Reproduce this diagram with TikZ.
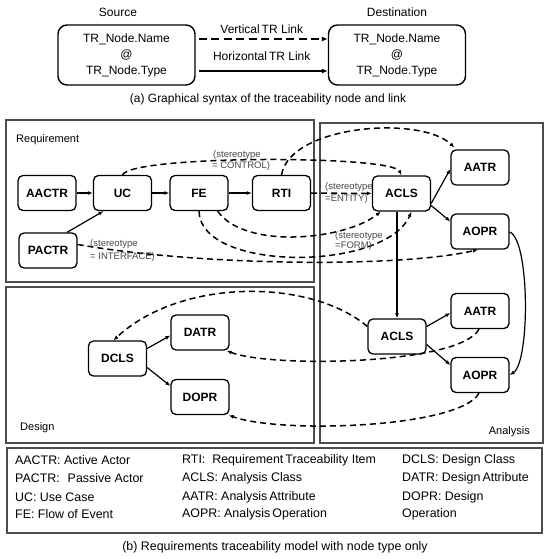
\documentclass[tikz,border=0pt]{standalone}
\usepackage{fontspec}
\setmainfont{Liberation Sans}
\usetikzlibrary{arrows.meta}
\begin{document}
\begin{tikzpicture}[x=1pt,y=-1pt,
  every node/.style={font=\fontsize{12.4}{14}\selectfont},
  nd/.style={draw, rounded corners=5pt, line width=1.3pt, minimum width=58pt, minimum height=35pt, inner sep=0pt, font=\bfseries\fontsize{12}{14}\selectfont},
  bigbox/.style={draw, rounded corners=9pt, line width=1.4pt, minimum width=137pt, minimum height=60pt, align=center, inner sep=0pt, font=\fontsize{12}{16}\selectfont},
  panel/.style={draw=black!70, line width=1.3pt},
  tip/.style={-{Latex[length=5pt,width=4pt]}},
  sol/.style={tip, line width=1.2pt},
  dsh/.style={tip, line width=1.5pt, dash pattern=on 6pt off 4pt},
  topsol/.style={-{Latex[length=6pt,width=5pt]}, line width=2pt},
  topdsh/.style={-{Latex[length=6pt,width=5pt]}, line width=2pt, dash pattern=on 8pt off 4.5pt},
  st/.style={font=\fontsize{9.5}{11}\selectfont, text=black!72, align=left, inner sep=0pt, anchor=west},
  lbl/.style={font=\fontsize{11}{13}\selectfont, inner sep=0pt},
  lg/.style={anchor=west, inner sep=0pt}
]
\useasboundingbox[fill=white] (0,0) rectangle (550,559);

% ---------- (a) syntax ----------
\node[font=\fontsize{12}{14}\selectfont] (srcl) at (118,12) {Source};
\node[font=\fontsize{12}{14}\selectfont] (dstl) at (397,12) {Destination};
\node[bigbox] (src) at (126.5,55) {TR\_Node.Name\\@\\TR\_Node.Type};
\node[bigbox] (dst) at (397,55) {TR\_Node.Name\\@\\TR\_Node.Type};
\draw[topdsh, shorten <=3pt] ([yshift=16pt]src.east) -- ([yshift=16pt]dst.west) node[midway, above=4pt, inner sep=0pt, font=\fontsize{12}{14}\selectfont] (vl) {Vertical\,TR Link};
\draw[topsol, shorten <=3pt] ([yshift=-16pt]src.east) -- ([yshift=-16pt]dst.west) node[midway, above=9pt, inner sep=0pt, font=\fontsize{12}{14}\selectfont] (hl) {Horizontal\,TR Link};
\node[font=\fontsize{12}{14}\selectfont] (capa) at (268,99) {(a) Graphical syntax of the traceability node and link};

% ---------- panels ----------
\draw[panel] (6,120) rectangle (314,282);
\draw[panel] (320,123) rectangle (543,443);
\draw[panel] (6,287) rectangle (314,443);
\draw[panel] (7,448) rectangle (542,533);
\node[lbl, anchor=west] (reqlbl) at (16,140) {Requirement};
\node[lbl, anchor=west] (deslbl) at (20,428) {Design};
\node[lbl, anchor=east] (analbl) at (530,432) {Analysis};

% ---------- nodes ----------
\node[nd] (AACTR) at (47,193) {AACTR};
\node[nd] (UC) at (122.5,193) {UC};
\node[nd] (FE) at (199,193) {FE};
\node[nd] (RTI) at (281.5,193) {RTI};
\node[nd] (PACTR) at (48,250.5) {PACTR};
\node[nd] (ACLS) at (401.5,193.5) {ACLS};
\node[nd] (AATR) at (480,167.5) {AATR};
\node[nd] (AOPR) at (480,231.5) {AOPR};
\node[nd] (ACLSb) at (397,336.5) {ACLS};
\node[nd] (AATRb) at (480,311) {AATR};
\node[nd] (AOPRb) at (480,375) {AOPR};
\node[nd] (DCLS) at (117.5,358.5) {DCLS};
\node[nd] (DATR) at (200,332.5) {DATR};
\node[nd] (DOPR) at (200,397) {DOPR};

% ---------- solid links ----------
\draw[sol] (AACTR) -- (UC);
\draw[sol] ([xshift=19pt]PACTR.north) -- ([xshift=-19pt]UC.south);
\draw[sol] (UC) -- (FE);
\draw[sol] (FE) -- (RTI);
\draw[sol] ([yshift=-10pt]ACLS.east) -- ([yshift=-1.5pt]AATR.west);
\draw[sol] ([yshift=-12pt]ACLS.east) -- ([yshift=10pt]AOPR.west);
\draw[sol] (ACLS.south -| ACLSb.north) -- (ACLSb.north);
\draw[sol] ([yshift=10pt]ACLSb.east) -- ([yshift=-2pt]AATRb.west);
\draw[sol] ([yshift=-8pt]ACLSb.east) -- ([yshift=10pt]AOPRb.west);
\draw[sol] ([yshift=10pt]DCLS.east) -- ([yshift=-3pt]DATR.west);
\draw[sol] ([yshift=-9pt]DCLS.east) -- ([yshift=11pt]DOPR.west);
\draw[sol] ([yshift=-0.5pt]AOPR.east) .. controls (530,240) and (530,362) .. (AOPRb.east);

% ---------- dashed links ----------
\draw[dsh] (UC.north) .. controls (132,155) and (392,155) .. (ACLS.north);
\draw[dsh] (RTI.north) .. controls (290,125) and (420,115) .. ([xshift=4pt,yshift=2pt]AATR.north west);
\draw[dsh] (RTI) -- (ACLS);
\draw[dsh] ([xshift=-11pt]FE.south east) .. controls (245,250) and (345,240) .. ([xshift=9pt]ACLS.south west);
\draw[dsh] (FE.south) .. controls (200,272) and (385,272) .. ([xshift=10pt]ACLS.south);
\draw[dsh] ([yshift=6pt]PACTR.east) .. controls (200,266) and (400,268) .. ([xshift=-2pt]AOPR.south);
\draw[dsh] ([yshift=10pt]ACLSb.west) .. controls (310,278) and (180,278) .. ([xshift=-4pt]DCLS.north);
\draw[dsh] ([xshift=-1pt]AATRb.south) .. controls (460,365) and (270,368) .. ([xshift=-3pt]DATR.south east);
\draw[dsh] ([xshift=-1pt]AOPRb.south) .. controls (460,428) and (280,434) .. ([xshift=-1pt]DOPR.south east);

% ---------- stereotype labels ----------
\node[st] (sCtrl) at (213,161) {(stereotype\\\hspace*{-1pt}= CONTROL)};
\node[st] (sEnt) at (325,193) {(stereotype\\[1.5pt]=ENTITY)};
\node[st] (sForm) at (335,241) {(stereotype\\[-1.5pt]=FORM)};
\node[st] (sInt) at (90,250.5) {(stereotype\\[2pt]= INTERFACE)};

% ---------- legend ----------
\node[lg] (l11) at (15,460) {AACTR: Active Actor};
\node[lg] (l12) at (15,478) {PACTR:\hspace{8pt}Passive Actor};
\node[lg] (l13) at (15,497) {UC: Use Case};
\node[lg] (l14) at (15,514) {FE: Flow of Event};
\node[lg] (l21) at (182,460) {RTI:\hspace{7pt}Requirement\,Traceability Item};
\node[lg] (l22) at (182,478) {ACLS: Analysis Class};
\node[lg] (l23) at (182,497) {AATR: Analysis\,Attribute};
\node[lg] (l24) at (182,514) {AOPR: Analysis\,Operation};
\node[lg] (l31) at (402,460) {DCLS: Design Class};
\node[lg] (l32) at (402,478) {DATR: Design\,Attribute};
\node[lg] (l33) at (402,497) {DOPR: Design};
\node[lg] (l34) at (402,514) {Operation};

\node (capb) at (275,547) {(b) Requirements traceability model with node type only};
\end{tikzpicture}
\end{document}
